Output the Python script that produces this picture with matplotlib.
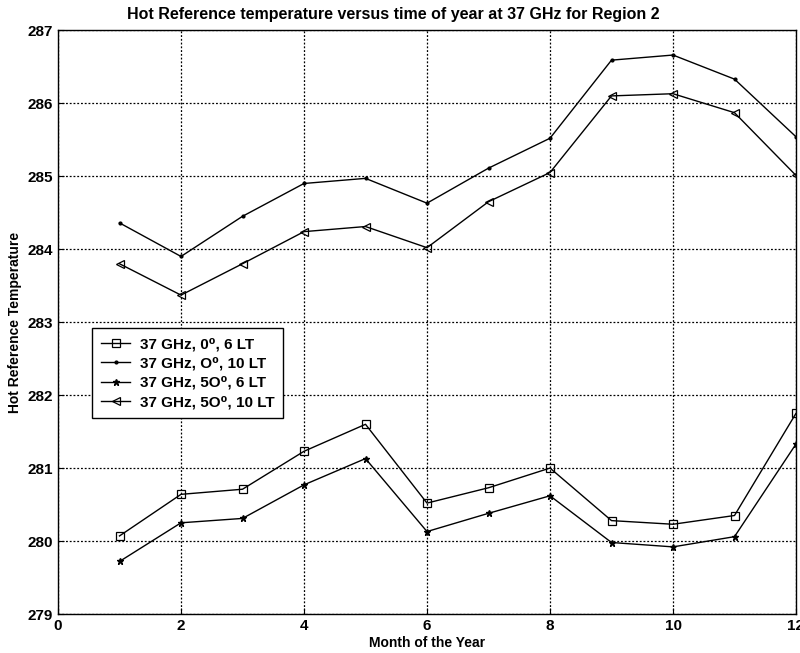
import matplotlib
matplotlib.use("Agg")
import matplotlib.pyplot as plt

months = [1, 2, 3, 4, 5, 6, 7, 8, 9, 10, 11, 12]
s_0deg_6lt = [280.07, 280.64, 280.71, 281.23, 281.60, 280.52, 280.73, 281.00, 280.28, 280.23, 280.35, 281.75]
s_0deg_10lt = [284.36, 283.90, 284.45, 284.90, 284.97, 284.63, 285.11, 285.52, 286.59, 286.66, 286.33, 285.54]
s_50deg_6lt = [279.72, 280.25, 280.31, 280.77, 281.13, 280.13, 280.38, 280.62, 279.98, 279.92, 280.06, 281.33]
s_50deg_10lt = [283.80, 283.37, 283.80, 284.24, 284.31, 284.02, 284.65, 285.05, 286.10, 286.13, 285.87, 285.01]
labels = ["37 GHz, 0\u2070, 6 LT", "37 GHz, O\u2070, 10 LT", "37 GHz, 5O\u2070, 6 LT", "37 GHz, 5O\u2070, 10 LT"]
xticks = [0, 2, 4, 6, 8, 10, 12]
yticks = [279, 280, 281, 282, 283, 284, 285, 286, 287]

fam = ['Liberation Sans Narrow', 'Liberation Sans', 'DejaVu Sans']
plt.rcParams['font.family'] = fam

fig = plt.figure(figsize=(8, 6.53), dpi=100)
ax = fig.add_axes([0.0725, 0.0597, 0.9225, 0.894])

lw = 1.0
ax.plot(months, s_0deg_6lt, color='black', lw=lw, marker='s', ms=6, mfc='none', mec='black', mew=0.9, label=labels[0])
ax.plot(months, s_0deg_10lt, color='black', lw=lw, marker='.', ms=4, label=labels[1])
ax.plot(months, s_50deg_6lt, color='black', lw=lw, marker='*', ms=5, label=labels[2])
ax.plot(months, s_50deg_10lt, color='black', lw=lw, marker='<', ms=6, mfc='none', mec='black', mew=0.9, label=labels[3])

ax.set_xlim(0, 12)
ax.set_ylim(279, 287)
ax.set_xticks(xticks)
ax.set_yticks(yticks)
ax.tick_params(direction='in', length=4, color='black', labelsize=11)
for t in ax.get_xticklabels() + ax.get_yticklabels():
    t.set_fontweight('bold')
ax.grid(True, color='black', linestyle=(0, (1.5, 1.5)), linewidth=0.9)
for s in ax.spines.values():
    s.set_color('black')
    s.set_linewidth(1.0)

ax.set_title("Hot Reference temperature versus time of year at 37 GHz for Region 2",
             fontsize=11.5, fontweight='bold', pad=8, x=0.454)
ax.set_xlabel("Month of the Year", fontsize=10, fontweight='bold', labelpad=2)
ax.set_ylabel("Hot Reference Temperature", fontsize=10, fontweight='bold', labelpad=4)

leg = ax.legend(loc='upper left', bbox_to_anchor=(0.036, 0.503), fancybox=False,
                edgecolor='black', framealpha=1, fontsize=11, handlelength=1.9,
                borderpad=0.6, labelspacing=0.35, handletextpad=0.6)
leg.get_frame().set_linewidth(1.0)
for t in leg.get_texts():
    t.set_fontweight('bold')

fig.savefig("out.png", dpi=100)
